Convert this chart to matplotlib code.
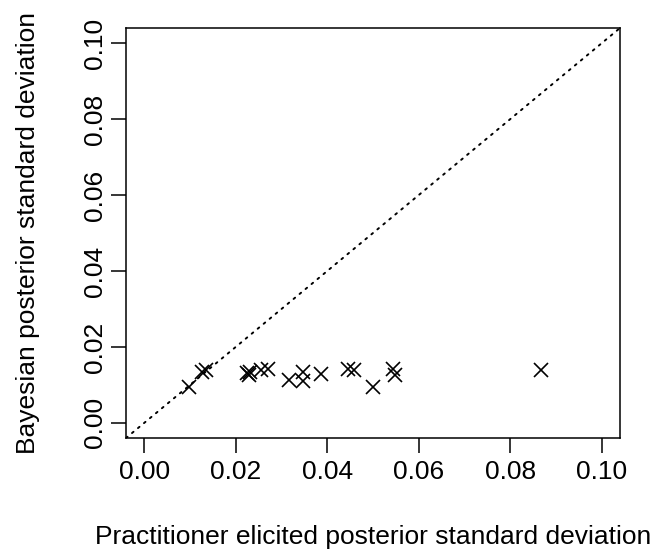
import matplotlib
matplotlib.use('Agg')
import matplotlib.pyplot as plt

# ── data ──────────────────────────────────────────────────────────
practitioner_sd = [0.0098, 0.0127, 0.0134, 0.0225, 0.0229, 0.0232, 0.0254, 0.0270,
                   0.0316, 0.0348, 0.0348, 0.0386, 0.0446, 0.0459, 0.0501, 0.0544,
                   0.0548, 0.0867]
bayes_sd = [0.0095, 0.0135, 0.0139, 0.0130, 0.0126, 0.0135, 0.0139, 0.0143,
            0.0113, 0.0135, 0.0111, 0.0129, 0.0143, 0.0139, 0.0095, 0.0143,
            0.0126, 0.0139]
ticks = [0.00, 0.02, 0.04, 0.06, 0.08, 0.10]
tick_labels = ['0.00', '0.02', '0.04', '0.06', '0.08', '0.10']

plt.rcParams['font.family'] = ['Liberation Sans', 'DejaVu Sans']

fig = plt.figure(figsize=(6.55, 5.52), dpi=100)
ax = fig.add_axes([0.1924, 0.2065, 0.7542, 0.7428])

# R-style 4% padding around [0, 0.1]
ax.set_xlim(-0.004, 0.104)
ax.set_ylim(-0.004, 0.104)

ax.plot([-0.004, 0.104], [-0.004, 0.104], color='black', lw=1.4,
        linestyle=(0, (1, 3)), dash_capstyle='round')
ax.plot(practitioner_sd, bayes_sd, linestyle='none', marker='x', color='black',
        markersize=9.5, markeredgewidth=1.2)

ax.set_xticks(ticks)
ax.set_xticklabels(tick_labels)
ax.set_yticks(ticks)
ax.set_yticklabels(tick_labels, rotation=90, va='center')
ax.tick_params(direction='out', length=11, width=1.1, labelsize=19, pad=2.5)
ax.tick_params(axis='x', pad=5)
for s in ax.spines.values():
    s.set_linewidth(1.1)

fig.text(0.570, 0.027, 'Practitioner elicited posterior standard deviation',
         ha='center', va='center', fontsize=19)
fig.text(0.043, 0.578, 'Bayesian posterior standard deviation',
         ha='center', va='center', rotation=90, fontsize=19)

fig.savefig('out.png', dpi=100, facecolor='white')
